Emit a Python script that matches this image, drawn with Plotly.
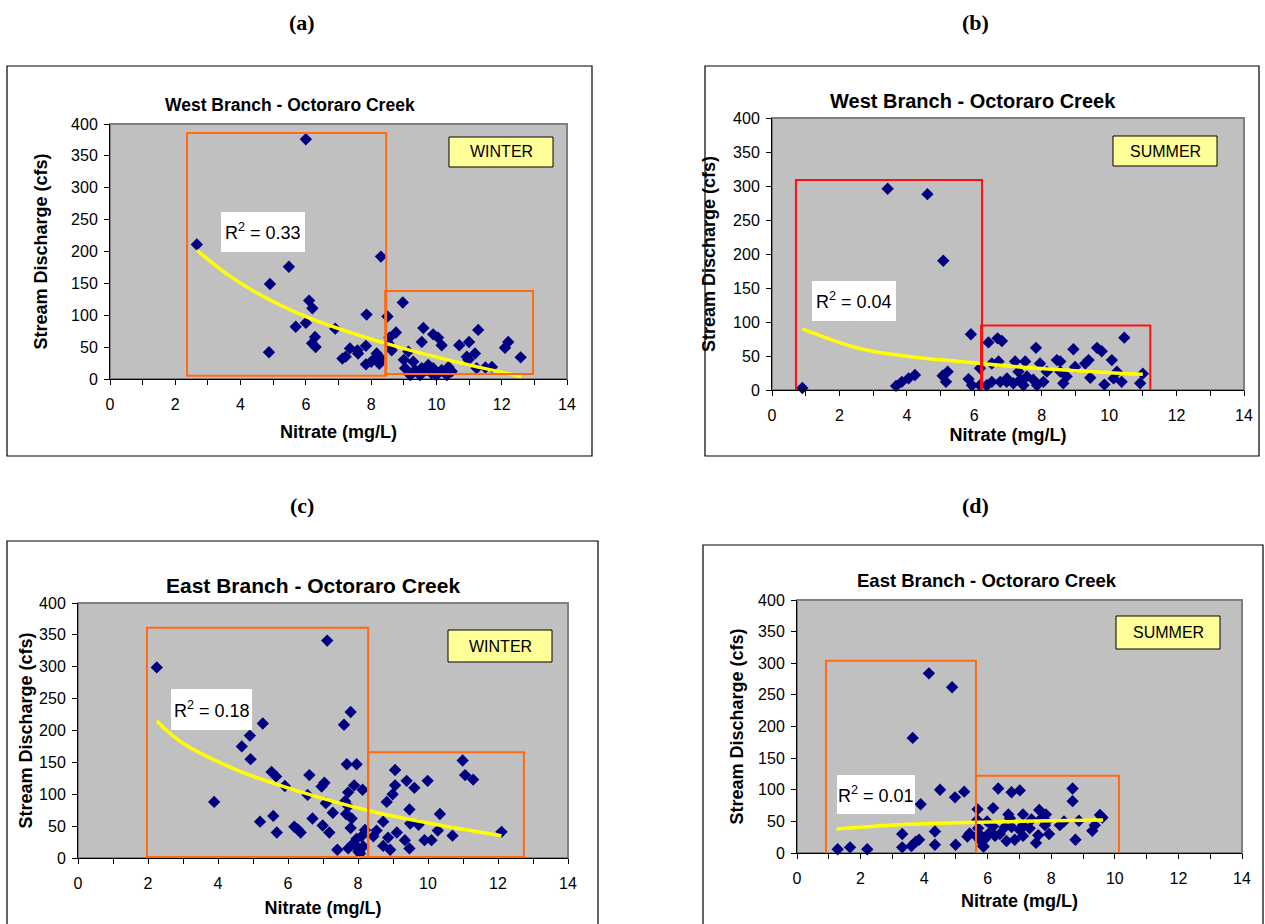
import plotly.graph_objects as go

W, H = 1265, 924

# ---------------- data ----------------
nitrate_ticks = [0, 2, 4, 6, 8, 10, 12, 14]
discharge_ticks = [0, 50, 100, 150, 200, 250, 300, 350, 400]

west_winter = [(2.66, 211), (6.0, 376), (8.3, 192), (5.48, 176), (4.9, 149), (6.1, 123), (6.2, 111),
               (7.86, 101), (5.69, 82), (6.0, 88), (6.9, 79), (6.28, 66), (6.19, 56), (6.3, 50), (4.87, 42),
               (7.35, 48), (7.58, 45), (7.84, 52), (7.12, 32), (7.22, 35), (7.6, 40), (7.84, 23), (8.0, 27),
               (8.17, 35), (8.25, 24), (8.3, 32), (8.5, 98), (8.56, 65), (8.53, 56), (8.76, 73), (8.63, 45),
               (8.97, 120), (9.6, 80), (9.55, 58), (9.9, 70), (10.05, 65), (10.16, 53), (11.28, 77), (11.0, 58),
               (10.7, 53), (12.2, 58), (12.1, 49), (12.58, 34), (11.18, 40), (10.93, 35), (10.98, 30), (11.5, 18),
               (11.23, 17), (11.7, 19), (9.14, 43), (9.0, 30), (9.29, 27), (9.35, 14), (9.2, 6), (9.5, 6),
               (9.55, 17), (9.9, 17), (10.0, 6), (10.16, 14), (10.32, 6), (10.37, 19), (9.85, 9), (8.17, 40),
               (8.22, 27), (9.04, 17), (10.47, 12), (9.7, 14), (9.75, 22)]
west_winter_trend_x = [2.66, 3.57, 4.5, 6.0, 8.5, 10.5, 12.6]
west_winter_trend_y = [202, 165, 135, 98, 55, 28, 4]
west_winter_boxes = [(2.36, 8.46, 5, 386), (8.43, 12.96, 8, 138)]

west_summer = [(0.9, 3), (3.43, 296), (4.61, 288), (5.08, 190), (5.9, 82), (3.68, 6), (3.85, 12), (4.05, 17),
               (4.24, 22), (5.06, 21), (5.21, 27), (5.16, 12), (5.83, 16), (5.93, 7), (6.17, 32), (6.17, 7),
               (6.42, 70), (6.69, 76), (6.82, 72), (6.52, 39), (6.72, 42), (6.52, 12), (6.77, 12), (6.96, 12),
               (7.83, 62), (8.94, 60), (9.64, 62), (9.78, 57), (10.45, 77), (7.21, 42), (7.51, 42), (7.95, 39),
               (8.45, 44), (8.55, 42), (9.39, 44), (9.29, 39), (10.08, 44), (10.23, 27), (11.0, 24), (10.92, 10),
               (9.86, 8), (10.37, 12), (8.55, 27), (8.74, 20), (9.44, 18), (8.64, 10), (8.05, 12), (7.75, 15),
               (7.56, 20), (7.36, 15), (7.16, 10), (6.97, 17), (6.37, 7), (7.46, 7), (7.86, 7), (8.15, 27),
               (7.31, 27), (8.99, 34), (10.13, 17)]
west_summer_trend_x = [0.9, 2.6, 4.1, 5.58, 7.06, 9.5, 11.0]
west_summer_trend_y = [90, 61, 49, 42, 35, 27, 23]
west_summer_boxes = [(0.71, 6.23, -3, 309), (6.2, 11.22, -2, 95)]

east_winter = [(2.25, 299), (7.12, 341), (7.79, 229), (7.6, 209), (5.28, 211), (4.91, 192), (4.68, 175),
               (4.93, 155), (3.89, 88), (5.53, 135), (5.66, 128), (5.91, 113), (6.61, 130), (7.04, 118),
               (6.96, 112), (7.68, 147), (7.96, 147), (7.89, 114), (8.13, 107), (7.72, 103), (6.56, 99),
               (7.08, 86), (7.28, 71), (7.63, 89), (7.72, 81), (7.66, 69), (7.82, 62), (5.58, 66), (5.2, 57),
               (5.68, 40), (6.18, 49), (6.36, 40), (6.28, 45), (6.7, 62), (6.99, 51), (7.18, 40), (7.79, 47),
               (7.41, 13), (7.72, 15), (7.87, 23), (8.01, 10), (8.15, 18), (8.1, 34), (8.2, 44), (7.96, 30),
               (8.06, 7), (7.96, 18), (10.99, 153), (11.06, 130), (11.29, 123), (9.06, 138), (9.06, 114),
               (9.39, 121), (9.61, 110), (9.99, 121), (8.99, 100), (8.82, 88), (9.47, 76), (10.34, 69),
               (8.72, 57), (9.49, 54), (9.73, 52), (9.11, 40), (10.28, 43), (10.7, 35), (12.1, 41), (8.86, 32),
               (8.53, 43), (8.44, 34), (8.72, 19), (8.92, 13), (9.34, 28), (9.47, 15), (9.9, 28), (10.1, 28)]
east_winter_trend_x = [2.25, 3.0, 4.63, 6.34, 8.25, 10.0, 12.1]
east_winter_trend_y = [215, 180, 136, 104, 75, 55, 35]
east_winter_boxes = [(1.97, 8.29, 1.6, 361), (8.29, 12.74, 1.6, 166)]

east_summer = [(4.15, 284), (4.88, 262), (3.64, 182), (3.89, 77), (4.5, 100), (4.97, 88), (5.26, 97),
               (1.28, 6), (1.67, 9), (2.21, 6), (3.31, 30), (3.31, 9), (3.6, 11), (3.74, 18), (3.84, 21),
               (4.34, 34), (4.34, 13), (4.99, 13), (5.36, 26), (5.43, 31), (5.68, 69), (5.67, 52), (5.65, 26),
               (6.17, 71), (6.33, 102), (5.98, 50), (5.87, 10), (5.82, 26), (6.75, 96), (7.01, 99), (8.67, 102),
               (8.67, 82), (6.65, 61), (6.7, 55), (7.11, 61), (7.38, 53), (7.62, 68), (7.83, 61), (7.69, 55),
               (8.27, 44), (8.4, 50), (8.87, 51), (9.53, 60), (9.61, 56), (9.37, 44), (9.29, 35), (8.76, 21),
               (7.52, 16), (7.93, 30), (7.59, 28), (7.11, 27), (6.85, 21), (6.59, 19), (6.38, 30), (6.23, 27),
               (6.02, 30), (5.86, 11), (5.76, 20), (5.91, 22), (6.17, 42), (6.75, 41), (7.11, 44), (7.32, 39),
               (7.8, 44), (7.85, 50), (5.7, 39), (6.54, 41), (7.01, 36)]
east_summer_trend_x = [1.25, 2.92, 4.5, 6.07, 8.0, 9.63]
east_summer_trend_y = [38, 44, 47, 49, 51, 52]
east_summer_boxes = [(0.91, 5.63, -3, 304), (5.63, 10.13, -3, 122)]

r2_values = ["0.33", "0.04", "0.18", "0.01"]
seasons = ["WINTER", "SUMMER", "WINTER", "SUMMER"]
titles = ["West Branch - Octoraro Creek", "West Branch - Octoraro Creek",
          "East Branch - Octoraro Creek", "East Branch - Octoraro Creek"]
panel_labels = ["(a)", "(b)", "(c)", "(d)"]
x_title = "Nitrate (mg/L)"
y_title = "Stream Discharge (cfs)"

# ---------------- layout geometry (pixels) ----------------
def X(p): return p / W
def Y(p): return 1 - p / H

SANS = "Arial, 'Liberation Sans', sans-serif"
SERIF = "'Times New Roman', 'Liberation Serif', serif"

panels = [
    dict(data=west_winter, tx=west_winter_trend_x, ty=west_winter_trend_y, boxes=west_winter_boxes,
         boxcolor="#FF6A13", plot=(110, 567, 124, 379), frame=(7, 592, 66, 456),
         title=(290, 105), tsize=17.5, xstand=13, ystand=18,
         r2box=(221, 305, 212, 252), seasonbox=(449, 553, 137, 167), label=(302, 23)),
    dict(data=west_summer, tx=west_summer_trend_x, ty=west_summer_trend_y, boxes=west_summer_boxes,
         boxcolor="#FF1010", plot=(772, 1244, 118, 390), frame=(705, 1259, 66, 456),
         title=(973, 101), tsize=20, xstand=5, ystand=12,
         r2box=(812, 896, 281, 321), seasonbox=(1113, 1217, 136, 166), label=(975, 23)),
    dict(data=east_winter, tx=east_winter_trend_x, ty=east_winter_trend_y, boxes=east_winter_boxes,
         boxcolor="#FF6A13", plot=(78, 568, 603, 858), frame=(7, 598, 541, 940),
         title=(313, 585), tsize=21, xstand=10, ystand=1,
         r2box=(171, 252, 689, 730), seasonbox=(448, 552, 630, 662), label=(302, 505)),
    dict(data=east_summer, tx=east_summer_trend_x, ty=east_summer_trend_y, boxes=east_summer_boxes,
         boxcolor="#FF6A13", plot=(797, 1242, 600, 853), frame=(703, 1263, 545, 940),
         title=(987, 580), tsize=18.5, xstand=8, ystand=9,
         r2box=(837, 915, 775, 814), seasonbox=(1116, 1220, 616, 649), label=(975, 505)),
]

fig = go.Figure()
shapes = []
annotations = []
layout_axes = {}

def text_ann(text, x, y, size, family=SANS, bold=False, **kw):
    return dict(text=text, xref="paper", yref="paper", x=X(x), y=Y(y), xanchor="center",
                yanchor="middle", showarrow=False,
                font=dict(family=family, size=size, color="black", weight="bold" if bold else "normal"),
                **kw)

def paper_rect(x0, x1, y0, y1, fill, line_color, line_width, layer="above"):
    return dict(type="rect", xref="paper", yref="paper", x0=X(x0), x1=X(x1), y0=Y(y1), y1=Y(y0),
                fillcolor=fill, line=dict(color=line_color, width=line_width), layer=layer)

title_font = dict(family=SANS, size=18, color="black", weight="bold")

for i, p in enumerate(panels):
    n = i + 1
    xa = "x" if n == 1 else f"x{n}"
    ya = "y" if n == 1 else f"y{n}"
    x0, x1, y0, y1 = p["plot"]
    axis_font = dict(family=SANS, size=16, color="black")
    layout_axes["xaxis" if n == 1 else f"xaxis{n}"] = dict(
        domain=[X(x0), X(x1)], anchor=ya, range=[0, 14], tickvals=nitrate_ticks,
        ticks="outside", ticklen=5, tickcolor="black", showline=True, linecolor="black",
        linewidth=1, showgrid=False, zeroline=False, tickfont=axis_font, ticklabelstandoff=6,
        minor=dict(ticks="outside", dtick=1, ticklen=5, tickcolor="black", showgrid=False),
        title=dict(text=x_title, font=title_font, standoff=p["xstand"]), automargin=False,
    )
    layout_axes["yaxis" if n == 1 else f"yaxis{n}"] = dict(
        domain=[Y(y1), Y(y0)], anchor=xa, range=[0, 400], tickvals=discharge_ticks,
        ticks="outside", ticklen=5, tickcolor="black", showline=True, linecolor="black",
        linewidth=1, showgrid=False, zeroline=False, tickfont=axis_font, ticklabelstandoff=3,
        title=dict(text=y_title, font=title_font, standoff=p["ystand"]), automargin=False,
    )

    xs = [d[0] for d in p["data"]]
    ys = [d[1] for d in p["data"]]
    fig.add_trace(go.Scatter(x=xs, y=ys, mode="markers", xaxis=xa, yaxis=ya,
                             marker=dict(symbol="diamond", size=9.5, color="#000080"),
                             showlegend=False, cliponaxis=False))
    fig.add_trace(go.Scatter(x=p["tx"], y=p["ty"], mode="lines", xaxis=xa, yaxis=ya,
                             line=dict(color="#FFFF00", width=3.5, shape="spline"),
                             showlegend=False))

    # chart frame
    fx0, fx1, fy0, fy1 = p["frame"]
    shapes.append(paper_rect(fx0, fx1, fy0, fy1, "rgba(0,0,0,0)", "black", 1.2, layer="below"))
    # plot area border (grey)
    shapes.append(dict(type="rect", xref=f"{xa} domain", yref=f"{ya} domain", x0=0, x1=1, y0=0, y1=1,
                       line=dict(color="#808080", width=2), layer="below"))
    # highlight boxes
    for bx0, bx1, by0, by1 in p["boxes"]:
        shapes.append(dict(type="rect", xref=xa, yref=ya, x0=bx0, x1=bx1, y0=by0, y1=by1,
                           line=dict(color=p["boxcolor"], width=2)))

    # R^2 label box and season label box
    rx0, rx1, ry0, ry1 = p["r2box"]
    shapes.append(paper_rect(rx0, rx1, ry0, ry1, "white", "white", 0))
    annotations.append(text_ann(f"R<sup>2</sup> = {r2_values[i]}", (rx0 + rx1) / 2, (ry0 + ry1) / 2, 18))
    sx0, sx1, sy0, sy1 = p["seasonbox"]
    shapes.append(paper_rect(sx0, sx1, sy0, sy1, "#FFFF99", "black", 1))
    annotations.append(text_ann(seasons[i], (sx0 + sx1) / 2, (sy0 + sy1) / 2, 16))

    tx, ty = p["title"]
    annotations.append(text_ann(titles[i], tx, ty, p["tsize"], bold=True))
    lx, ly = p["label"]
    annotations.append(text_ann(panel_labels[i], lx, ly, 22, family=SERIF, bold=True))

fig.update_layout(
    width=W, height=H, margin=dict(l=0, r=0, t=0, b=0),
    paper_bgcolor="white", plot_bgcolor="#C0C0C0",
    shapes=shapes, annotations=annotations, showlegend=False,
    **layout_axes,
)

fig.write_html("out.html", config={"displayModeBar": False},
               post_script="document.body.style.margin='0';")
